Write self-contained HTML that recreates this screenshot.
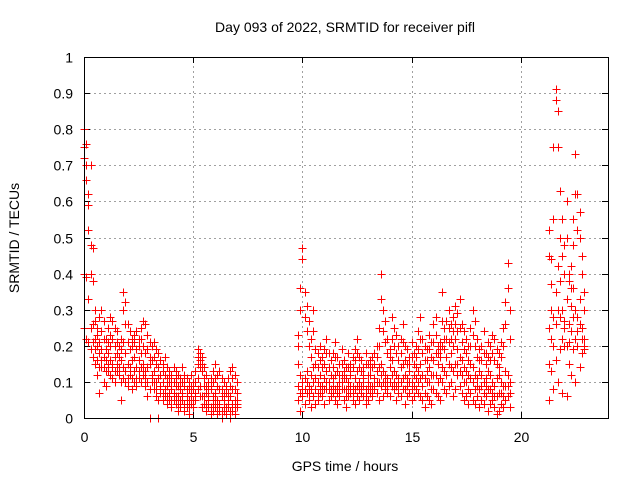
<!DOCTYPE html>
<html><head><meta charset="utf-8"><style>
html,body{margin:0;padding:0;background:#fff}
svg{display:block;font-family:"Liberation Sans",sans-serif}
</style></head><body>
<svg id="chart" width="640" height="480" viewBox="0 0 640 480">
<text x="345" y="32" font-size="14" text-anchor="middle">Day 093 of 2022, SRMTID for receiver pifl</text>
<text transform="translate(19,238) rotate(-90)" font-size="14" text-anchor="middle">SRMTID / TECUs</text>
<text x="345" y="471" font-size="14" text-anchor="middle">GPS time / hours</text>
<g id="grid"></g>
<g id="marks" shape-rendering="crispEdges"></g>
<rect x="84.5" y="57.5" width="524" height="361" fill="none" stroke="#000" stroke-width="1" shape-rendering="crispEdges"/>
</svg>
<script>
const yTicks=[0,0.1,0.2,0.3,0.4,0.5,0.6,0.7,0.8,0.9,1];
const yTickLabels=["0","0.1","0.2","0.3","0.4","0.5","0.6","0.7","0.8","0.9","1"];
const xTicks=[0,5,10,15,20];
const xTickLabels=["0","5","10","15","20"];
const hoursA=[0.0,0.1,0.2,0.3,0.4,0.5,0.6,0.7,0.8,0.9,1.0,1.1,1.2,1.3,1.4,1.5,1.6,1.7,1.8,1.9,2.0,2.1,2.2,2.3,2.4,2.5,2.6,2.7,2.8,2.9,3.0,3.1,3.2,3.3,3.4,3.5,3.6,3.7,3.8,3.9,4.0,4.1,4.2,4.3,4.4,4.5,4.6,4.7,4.8,4.9,5.0,5.1,5.2,5.3,5.4,5.5,5.6,5.7,5.8,5.9,6.0,6.1,6.2,6.3,6.4,6.5,6.6,6.7,6.8,6.9,7.0];
const hoursB=[9.8,9.9,10.0,10.1,10.2,10.3,10.4,10.5,10.6,10.7,10.8,10.9,11.0,11.1,11.2,11.3,11.4,11.5,11.6,11.7,11.8,11.9,12.0,12.1,12.2,12.3,12.4,12.5,12.6,12.7,12.8,12.9,13.0,13.1,13.2,13.3,13.4,13.5,13.6,13.7,13.8,13.9,14.0,14.1,14.2,14.3,14.4,14.5,14.6,14.7,14.8,14.9,15.0,15.1,15.2,15.3,15.4,15.5,15.6,15.7,15.8,15.9,16.0,16.1,16.2,16.3,16.4,16.5,16.6,16.7,16.8,16.9,17.0,17.1,17.2,17.3,17.4,17.5,17.6,17.7,17.8,17.9,18.0,18.1,18.2,18.3,18.4,18.5,18.6,18.7,18.8,18.9,19.0,19.1,19.2,19.3,19.4,19.5];
const hoursC=[21.3,21.4,21.5,21.6,21.7,21.8,21.9,22.0,22.1,22.2,22.3,22.4,22.5,22.6,22.7,22.8,22.9];
const highA=[0.80,0.76,0.59,0.70,0.47,0.30,0.25,0.28,0.30,0.27,0.22,0.25,0.28,0.27,0.25,0.24,0.20,0.22,0.35,0.32,0.26,0.24,0.22,0.23,0.24,0.22,0.25,0.27,0.26,0.23,0.21,0.20,0.21,0.19,0.18,0.16,0.15,0.17,0.14,0.13,0.12,0.14,0.13,0.12,0.11,0.14,0.12,0.11,0.10,0.12,0.10,0.13,0.19,0.18,0.17,0.14,0.12,0.10,0.11,0.13,0.15,0.12,0.13,0.11,0.10,0.09,0.11,0.13,0.14,0.12,0.10];
const upperA=[0.75,0.70,0.62,0.48,0.26,0.27,0.23,0.21,0.24,0.22,0.19,0.21,0.23,0.22,0.20,0.21,0.17,0.19,0.30,0.26,0.21,0.19,0.20,0.21,0.19,0.20,0.22,0.20,0.18,0.19,0.17,0.16,0.17,0.15,0.14,0.12,0.13,0.12,0.11,0.11,0.10,0.10,0.11,0.09,0.10,0.10,0.10,0.08,0.08,0.09,0.09,0.10,0.17,0.16,0.15,0.11,0.09,0.08,0.09,0.10,0.11,0.09,0.08,0.08,0.07,0.08,0.07,0.09,0.11,0.08,0.07];
const midA=[0.72,0.66,0.52,0.40,0.38,0.22,0.20,0.18,0.19,0.17,0.16,0.18,0.20,0.15,0.17,0.18,0.14,0.16,0.21,0.18,0.15,0.13,0.16,0.17,0.14,0.16,0.18,0.15,0.13,0.14,0.15,0.12,0.13,0.10,0.11,0.09,0.10,0.08,0.09,0.10,0.08,0.07,0.09,0.06,0.08,0.07,0.09,0.06,0.05,0.07,0.08,0.06,0.15,0.14,0.13,0.09,0.07,0.06,0.08,0.06,0.07,0.05,0.04,0.06,0.05,0.07,0.04,0.06,0.08,0.05,0.04];
const lowerA=[0.25,0.22,0.21,0.19,0.17,0.19,0.16,0.14,0.16,0.14,0.13,0.15,0.16,0.14,0.13,0.15,0.14,0.10,0.14,0.13,0.11,0.14,0.11,0.13,0.11,0.13,0.14,0.13,0.11,0.10,0.08,0.11,0.10,0.08,0.05,0.08,0.07,0.07,0.06,0.07,0.05,0.06,0.06,0.04,0.05,0.06,0.04,0.05,0.03,0.05,0.05,0.07,0.11,0.09,0.06,0.06,0.04,0.05,0.03,0.04,0.05,0.03,0.03,0.02,0.03,0.03,0.05,0.02,0.04,0.03,0.05];
const lowA=[0.40,0.39,0.33,0.25,0.21,0.15,0.12,0.07,0.14,0.10,0.09,0.13,0.12,0.11,0.10,0.13,0.12,0.05,0.11,0.10,0.09,0.12,0.08,0.10,0.09,0.11,0.10,0.12,0.09,0.06,0.00,0.10,0.08,0.06,0.00,0.07,0.05,0.06,0.04,0.05,0.03,0.05,0.04,0.02,0.03,0.05,0.02,0.03,0.01,0.04,0.03,0.05,0.08,0.06,0.03,0.04,0.02,0.03,0.01,0.02,0.03,0.01,0.02,0.00,0.02,0.01,0.03,0.00,0.02,0.01,0.03];
const highB=[0.23,0.36,0.47,0.35,0.31,0.27,0.22,0.30,0.19,0.18,0.20,0.17,0.19,0.22,0.18,0.16,0.18,0.21,0.17,0.15,0.19,0.16,0.14,0.18,0.15,0.17,0.19,0.22,0.17,0.16,0.14,0.18,0.15,0.16,0.17,0.18,0.20,0.25,0.40,0.30,0.27,0.22,0.19,0.28,0.25,0.23,0.20,0.22,0.26,0.20,0.19,0.17,0.21,0.18,0.20,0.24,0.28,0.22,0.20,0.19,0.23,0.21,0.26,0.28,0.20,0.21,0.35,0.25,0.27,0.30,0.26,0.28,0.31,0.29,0.33,0.26,0.24,0.22,0.20,0.25,0.30,0.27,0.22,0.19,0.20,0.24,0.18,0.21,0.20,0.23,0.22,0.19,0.18,0.21,0.25,0.32,0.43,0.30];
const upperB=[0.20,0.30,0.44,0.28,0.24,0.20,0.17,0.24,0.15,0.14,0.16,0.14,0.15,0.18,0.14,0.12,0.14,0.17,0.13,0.12,0.15,0.13,0.11,0.14,0.13,0.14,0.16,0.18,0.14,0.13,0.12,0.15,0.12,0.14,0.14,0.15,0.17,0.20,0.33,0.24,0.21,0.18,0.17,0.22,0.20,0.18,0.16,0.18,0.21,0.16,0.15,0.15,0.17,0.15,0.17,0.19,0.22,0.18,0.16,0.16,0.19,0.17,0.21,0.23,0.18,0.19,0.27,0.22,0.22,0.25,0.22,0.24,0.26,0.24,0.25,0.21,0.19,0.18,0.16,0.20,0.23,0.20,0.17,0.16,0.16,0.18,0.15,0.17,0.16,0.18,0.16,0.15,0.14,0.17,0.20,0.26,0.36,0.22];
const midB=[0.15,0.12,0.10,0.11,0.13,0.09,0.12,0.14,0.11,0.10,0.12,0.09,0.11,0.13,0.10,0.08,0.11,0.12,0.09,0.10,0.12,0.11,0.08,0.10,0.12,0.09,0.11,0.13,0.10,0.09,0.11,0.08,0.10,0.12,0.09,0.11,0.13,0.14,0.15,0.13,0.12,0.11,0.14,0.16,0.13,0.12,0.11,0.14,0.15,0.12,0.11,0.13,0.10,0.12,0.14,0.13,0.15,0.12,0.11,0.13,0.14,0.12,0.16,0.18,0.15,0.17,0.20,0.19,0.17,0.21,0.18,0.20,0.22,0.19,0.17,0.16,0.14,0.13,0.12,0.15,0.14,0.12,0.11,0.13,0.12,0.10,0.11,0.13,0.12,0.10,0.09,0.11,0.12,0.10,0.09,0.13,0.12,0.10];
const lowerB=[0.09,0.07,0.08,0.08,0.10,0.07,0.08,0.10,0.08,0.07,0.09,0.08,0.08,0.10,0.08,0.07,0.09,0.08,0.07,0.08,0.10,0.08,0.06,0.08,0.09,0.07,0.08,0.09,0.08,0.08,0.09,0.06,0.08,0.09,0.08,0.09,0.10,0.10,0.12,0.10,0.10,0.09,0.10,0.12,0.10,0.09,0.09,0.10,0.11,0.08,0.09,0.10,0.08,0.09,0.11,0.10,0.11,0.09,0.07,0.10,0.10,0.08,0.12,0.12,0.10,0.11,0.14,0.13,0.12,0.15,0.14,0.13,0.15,0.15,0.13,0.12,0.10,0.10,0.08,0.11,0.10,0.08,0.09,0.08,0.09,0.07,0.09,0.08,0.08,0.07,0.06,0.06,0.07,0.07,0.06,0.09,0.09,0.07];
const lowB=[0.05,0.02,0.06,0.04,0.07,0.05,0.03,0.06,0.04,0.05,0.07,0.06,0.04,0.08,0.05,0.06,0.07,0.05,0.04,0.06,0.08,0.05,0.03,0.06,0.07,0.05,0.04,0.06,0.05,0.07,0.06,0.04,0.05,0.07,0.06,0.08,0.07,0.05,0.09,0.06,0.08,0.07,0.06,0.09,0.08,0.05,0.07,0.06,0.08,0.04,0.06,0.07,0.05,0.06,0.08,0.07,0.06,0.05,0.03,0.06,0.05,0.04,0.08,0.07,0.06,0.05,0.10,0.08,0.07,0.09,0.10,0.06,0.08,0.12,0.09,0.07,0.05,0.06,0.04,0.07,0.05,0.04,0.06,0.03,0.05,0.04,0.06,0.02,0.04,0.05,0.03,0.01,0.02,0.04,0.03,0.05,0.06,0.03];
const highC=[0.52,0.44,0.75,0.91,0.85,0.63,0.55,0.48,0.60,0.40,0.42,0.55,0.73,0.62,0.57,0.45,0.35];
const upperC=[0.45,0.37,0.55,0.88,0.75,0.50,0.45,0.40,0.50,0.38,0.36,0.48,0.62,0.52,0.50,0.40,0.30];
const midC=[0.25,0.30,0.28,0.35,0.42,0.38,0.30,0.27,0.33,0.26,0.31,0.36,0.30,0.28,0.33,0.25,0.22];
const lowerC=[0.15,0.22,0.20,0.26,0.30,0.28,0.22,0.25,0.20,0.21,0.24,0.28,0.22,0.24,0.26,0.22,0.19];
const lowC=[0.05,0.13,0.08,0.16,0.10,0.19,0.07,0.20,0.06,0.15,0.12,0.19,0.10,0.20,0.14,0.18,0.20];

const X0=84,X1=608,Y0=418,Y1=57,XMAX=24,YMAX=1;
function sx(v){return X0+(v/XMAX)*(X1-X0);}
function sy(v){return Y0-(v/YMAX)*(Y0-Y1);}
const NS="http://www.w3.org/2000/svg";
const grid=document.getElementById('grid');
const marks=document.getElementById('marks');
function mk(tag,attrs,parent){const e=document.createElementNS(NS,tag);for(const k in attrs)e.setAttribute(k,attrs[k]);parent.appendChild(e);return e;}
yTicks.forEach((t,i)=>{
  const y=Math.round(sy(t))+0.5;
  if(t>0&&t<1){const g=mk('line',{x1:X0,x2:X1,y1:y,y2:y,stroke:'#a0a0a0','stroke-dasharray':'2,3'},grid);
  
  }
  const tk=mk('path',{d:`M${X0},${y}h6M${X1},${y}h-6`,stroke:'#000'},grid);
  
  
  const lb=mk('text',{x:X0-11,y:y+5,'font-size':14,'text-anchor':'end'},grid);
  lb.textContent=yTickLabels[i];
  
  
});
xTicks.forEach((t,i)=>{
  const x=Math.round(sx(t))+0.5;
  if(t>0){const g=mk('line',{x1:x,x2:x,y1:Y0,y2:Y1,stroke:'#a0a0a0','stroke-dasharray':'2,3'},grid);
  
  }
  const tk=mk('path',{d:`M${x},${Y0}v-6M${x},${Y1}v6`,stroke:'#000'},grid);
  
  
  const lb=mk('text',{x:x,y:Y0+24,'font-size':14,'text-anchor':'middle'},grid);
  lb.textContent=xTickLabels[i];
  
  
});
function plot(hours,vals){
  let d='';
  const n=Math.min(hours.length,vals.length);
  for(let i=0;i<n;i++){
    const v=vals[i];if(v==null||isNaN(v))continue;
    const x=Math.round(sx(hours[i]))+0.5,y=Math.round(sy(v))+0.5;
    d+=`M${x-4},${y}h8M${x},${y-4}v8`;
  }
  const p=mk('path',{d:d,stroke:'#ff0000','stroke-width':1,fill:'none'},marks);
  
  
}
[[hoursA,highA],[hoursA,upperA],[hoursA,midA],[hoursA,lowerA],[hoursA,lowA],[hoursB,highB],[hoursB,upperB],[hoursB,midB],[hoursB,lowerB],[hoursB,lowB],[hoursC,highC],[hoursC,upperC],[hoursC,midC],[hoursC,lowerC],[hoursC,lowC]].forEach(s=>plot(s[0],s[1]));
</script>
</body></html>
